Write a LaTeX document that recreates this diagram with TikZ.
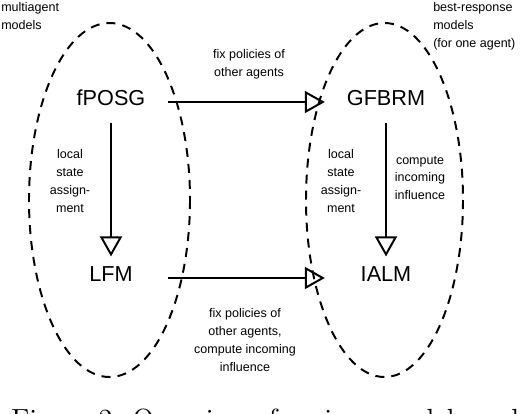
\documentclass[tikz,border=0pt]{standalone}
\usepackage{fontspec}
\newfontfamily\helv{Liberation Sans}
\usetikzlibrary{arrows.meta}
\begin{document}
\begin{tikzpicture}[x=0.025cm,y=-0.025cm,
    model/.style={font=\helv\fontsize{15.4}{18}\selectfont,inner sep=0pt,text height=12.3pt,text depth=8pt},
    lbl/.style={font=\helv\fontsize{8.9}{12.6}\selectfont,align=center,inner sep=0pt},
    note/.style={font=\helv\fontsize{8.9}{12.8}\selectfont,align=left,inner sep=0pt,anchor=north west},
    arr/.style={-{Triangle[open,length=0.5cm,width=0.55cm]},line width=1.4pt},
    group/.style={line width=1.4pt,dash pattern=on 6.4pt off 5pt}]
    \useasboundingbox (0,0) rectangle (526,414);
    \draw[group] (109.5,200) ellipse [x radius=80.5,y radius=177];
    \draw[group] (384.5,200) ellipse [x radius=78.5,y radius=177];
    \node[model] (fposg) at (111,102) {fPOSG};
    \node[model] (gfbrm) at (386,102) {GFBRM};
    \node[model] (lfm) at (111,278) {LFM};
    \node[model] (ialm) at (386,278) {IALM};
    \draw[arr,shorten <=0.565cm,shorten >=0.545cm] (fposg) -- (gfbrm);
    \draw[arr,shorten <=0.88cm,shorten >=0.89cm] (lfm) -- (ialm);
    \draw[arr,shorten <=0.15cm,shorten >=0.175cm] (fposg) -- (lfm);
    \draw[arr,shorten <=0.15cm,shorten >=0.175cm] (gfbrm) -- (ialm);
    \node[lbl] (fixtop) at (249,64) {fix policies of\\other agents};
    \node[lbl] (fixbot) at (245,340) {fix policies of\\other agents,\\compute incoming\\influence};
    \node[lbl] (localleft) at (70,181) {local\\state\\assign-\\ment};
    \node[lbl] (localright) at (341,181) {local\\state\\assign-\\ment};
    \node[lbl] (compute) at (420,178) {compute\\incoming\\influence};
    \node[note] (multi) at (1,2) {multiagent\\models};
    \node[note] (best) at (433,2) {best-response\\models\\(for one agent)};
    \node[anchor=base west,inner sep=0pt] (caption) at (11,428) {\scalebox{1.97}{\fontsize{10}{12}\selectfont Figure 2: Overview of various models and}};
\end{tikzpicture}
\end{document}
